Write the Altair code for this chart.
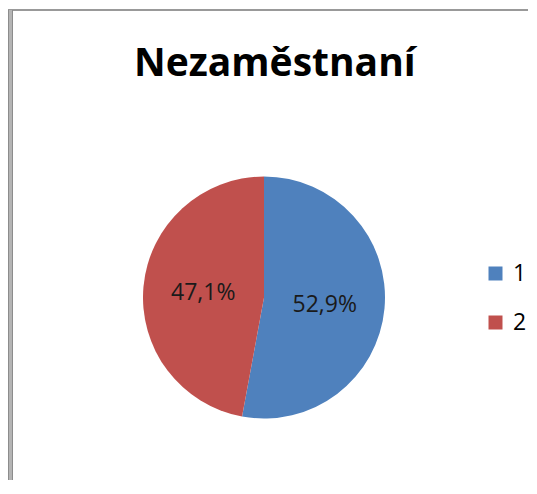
import altair as alt
import pandas as pd

categories = ["1", "2"]
values = [52.9, 47.1]
labels = ["52,9%", "47,1%"]
colors = ["#4F81BD", "#C0504D"]
title_text = "Nezaměstnaní"

df = pd.DataFrame({"cat": categories, "val": values, "lab": labels, "ord": [0, 1]})

W, H = 520, 472
CX, CY = 256, 289.5
FONT = "Open Sans"

base = alt.Chart(df).encode(
    theta=alt.Theta("val:Q", stack=True),
    order=alt.Order("ord:Q"),
)

pie = base.mark_arc(outerRadius=121).encode(
    x=alt.value(CX), y=alt.value(CY),
    color=alt.Color("cat:N", scale=alt.Scale(domain=categories, range=colors),
                    legend=alt.Legend(title=None, orient="none", legendX=476, legendY=254,
                                      symbolType="square", symbolSize=196, symbolStrokeWidth=0,
                                      labelFontSize=23, labelFont=FONT, labelColor="#000000",
                                      labelOffset=6, rowPadding=25, padding=0)),
)

text = base.mark_text(radius=61, fontSize=23, font=FONT, color="#1a1a1a", dy=1.5).encode(
    x=alt.value(CX), y=alt.value(CY),
    text="lab:N",
)

border_df = pd.DataFrame({"k": [0]})
top_line = alt.Chart(border_df).mark_rule(color="#999999", strokeWidth=2).encode(
    x=alt.value(0), x2=alt.value(W), y=alt.value(2), y2=alt.value(2))
left_band = alt.Chart(border_df).mark_rule(color="#b4b4b4", strokeWidth=5).encode(
    x=alt.value(2.5), y=alt.value(2), y2=alt.value(H))
left_a = alt.Chart(border_df).mark_rule(color="#8c8c8c", strokeWidth=1).encode(
    x=alt.value(0.5), y=alt.value(2), y2=alt.value(H))
left_b = alt.Chart(border_df).mark_rule(color="#8c8c8c", strokeWidth=1).encode(
    x=alt.value(4.5), y=alt.value(2), y2=alt.value(H))

chart = alt.layer(pie, text, top_line, left_band, left_a, left_b).properties(
    width=W, height=H,
    autosize=alt.AutoSizeParams(type="none"),
    padding=0,
    view=alt.ViewBackground(stroke="white", strokeWidth=0, strokeOpacity=0),
    title=alt.TitleParams(title_text, fontSize=39, font=FONT, fontWeight="bold",
                          color="#000000", anchor="start", dx=127, dy=0, offset=-76,
                          orient="top"),
).configure(
    background="white",
    view=alt.ViewConfig(stroke="white", strokeWidth=0, strokeOpacity=0),
)

chart.save("out.html", embed_options={"renderer": "svg", "actions": False})
